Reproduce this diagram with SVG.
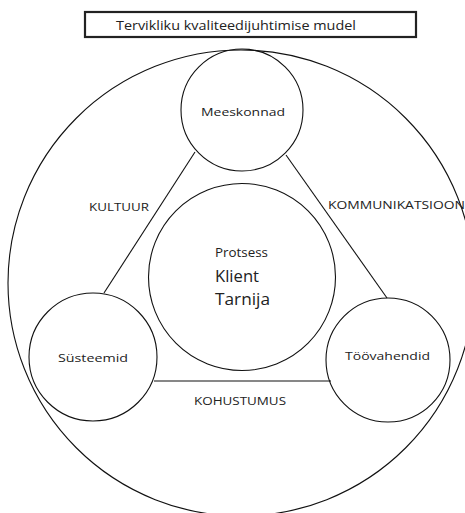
<svg xmlns="http://www.w3.org/2000/svg" width="465" height="513" viewBox="0 0 465 513">
<style>
.c{fill:none;stroke:#111;stroke-width:1.1}
.ln{stroke:#111;stroke-width:1.1;fill:none}
text{font-family:"Open Sans","Liberation Sans","DejaVu Sans",sans-serif;fill:#222}
.n{font-size:11.5px;text-anchor:middle;dominant-baseline:central}
.l{font-size:11px;dominant-baseline:central}
</style>
<rect width="465" height="513" fill="#fff"/>
<g id="title">
<rect x="85" y="12" width="331" height="25" fill="#fff" stroke="#222" stroke-width="2.2"/>
<text x="116" y="24.5" font-size="13" dominant-baseline="central" textLength="240" lengthAdjust="spacingAndGlyphs">Tervikliku kvaliteedijuhtimise mudel</text>
</g>
<g id="outer">
<circle class="c" cx="241" cy="283" r="233"/>
</g>
<g id="connectors">
<line class="ln" x1="195" y1="152" x2="104" y2="293"/>
<line class="ln" x1="286" y1="155" x2="387" y2="298"/>
<line class="ln" x1="154" y1="381" x2="331" y2="381"/>
</g>
<g id="meeskonnad">
<circle class="c" cx="242" cy="110" r="61"/>
<text class="n" x="243" y="111" textLength="84" lengthAdjust="spacingAndGlyphs">Meeskonnad</text>
</g>
<g id="protsess">
<circle class="c" cx="242" cy="277" r="93.5"/>
<text x="215" y="252" font-size="12.5" dominant-baseline="central" textLength="53" lengthAdjust="spacingAndGlyphs">Protsess</text>
<text x="215" y="275" font-size="17" dominant-baseline="central" textLength="44" lengthAdjust="spacingAndGlyphs">Klient</text>
<text x="215" y="298" font-size="17" dominant-baseline="central" textLength="55" lengthAdjust="spacingAndGlyphs">Tarnija</text>
</g>
<g id="systeemid">
<circle class="c" cx="93" cy="357" r="64"/>
<text class="n" x="93" y="357" textLength="70" lengthAdjust="spacingAndGlyphs">Süsteemid</text>
</g>
<g id="toovahendid">
<circle class="c" cx="388" cy="360" r="62"/>
<text class="n" x="387.5" y="355" textLength="85" lengthAdjust="spacingAndGlyphs">Töövahendid</text>
</g>
<g id="labels">
<text class="l" x="89" y="206" textLength="60" lengthAdjust="spacingAndGlyphs">KULTUUR</text>
<text class="l" x="328" y="204" textLength="137" lengthAdjust="spacingAndGlyphs">KOMMUNIKATSIOON</text>
<text class="l" x="194" y="400" textLength="92" lengthAdjust="spacingAndGlyphs">KOHUSTUMUS</text>
</g>
</svg>
